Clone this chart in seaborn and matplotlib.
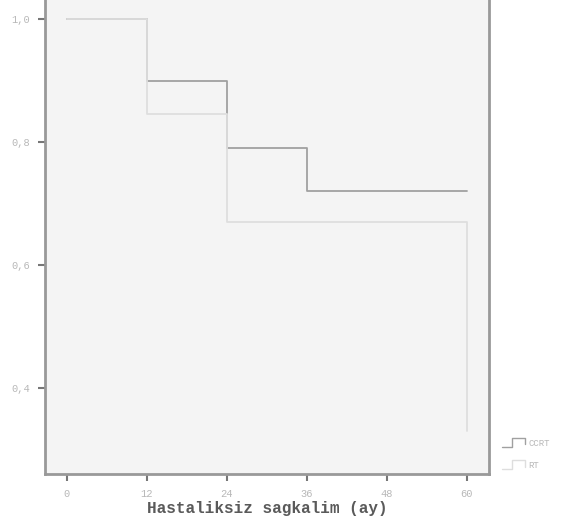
import matplotlib
matplotlib.use("Agg")
import matplotlib.pyplot as plt
import seaborn as sns
import pandas as pd
from matplotlib.lines import Line2D
from matplotlib.legend_handler import HandlerBase

# Data (Kaplan-Meier step curves)
ccrt_time = [0, 12, 24, 36, 60]
ccrt_surv = [1.0, 0.90, 0.79, 0.72, 0.72]
rt_time = [0, 12, 24, 60, 60]
rt_surv = [1.0, 0.845, 0.67, 0.67, 0.33]
groups = ["CCRT", "RT"]
x_ticks = [0, 12, 24, 36, 48, 60]
y_ticks = [0.4, 0.6, 0.8, 1.0]
y_tick_labels = ["0,4", "0,6", "0,8", "1,0"]
x_label = "Hastaliksiz sagkalim (ay)"

df = pd.concat([
    pd.DataFrame({"t": ccrt_time, "s": ccrt_surv, "g": groups[0]}),
    pd.DataFrame({"t": rt_time, "s": rt_surv, "g": groups[1]}),
], ignore_index=True)

sns.set_style("white")
plt.rcParams["font.family"] = ["Liberation Mono", "DejaVu Sans Mono"]

fig = plt.figure(figsize=(5.62, 5.22), dpi=100)
ax = fig.add_axes([0.080, 0.092, 0.790, 0.908])
ax.set_facecolor("#f4f4f4")

colors = {"CCRT": "#a0a0a0", "RT": "#dedede"}
for g in ["CCRT", "RT"]:
    sub = df[df["g"] == g]
    sns.lineplot(data=sub, x="t", y="s", ax=ax, estimator=None, sort=False,
                 drawstyle="steps-post", color=colors[g], linewidth=1.3, legend=False)

ax.set_xlim(-3.3, 63.3)
ax.set_ylim(0.26, 1.031)
ax.set_xticks(x_ticks)
ax.set_xticklabels([str(v) for v in x_ticks])
ax.set_yticks(y_ticks)
ax.set_yticklabels(y_tick_labels)
ax.tick_params(axis="both", bottom=True, left=True, direction="out", length=5,
               width=1.5, color="#777777", labelsize=7.5, labelcolor="#b8b8b8", pad=6)
ax.set_xlabel(x_label, fontsize=11.5, fontweight="bold", color="#5a5a5a", labelpad=1)
ax.set_ylabel("")

for side in ["left", "bottom", "right"]:
    ax.spines[side].set_visible(True)
    ax.spines[side].set_color("#999999")
    ax.spines[side].set_linewidth(2)
ax.spines["top"].set_visible(False)


class StepHandler(HandlerBase):
    def create_artists(self, legend, orig_handle, xdescent, ydescent, width,
                       height, fontsize, trans):
        x0, x1 = -xdescent, -xdescent + width
        y0, y1 = -ydescent, -ydescent + height
        xs = [x0, x0 + 0.45 * width, x0 + 0.45 * width, x1, x1]
        ys = [y0, y0, y1, y1, y0 + 0.3 * height]
        ln = Line2D(xs, ys, color=orig_handle.get_color(), lw=1.0, transform=trans)
        return [ln]


handles = [Line2D([0], [0], color=colors[g], lw=1.0) for g in groups]
fig.legend(handles, groups, loc="center left", bbox_to_anchor=(0.878, 0.13),
           frameon=False, fontsize=6.5, labelcolor="#b8b8b8", handlelength=2.6,
           handleheight=1.1, handletextpad=0.4, labelspacing=1.4,
           handler_map={Line2D: StepHandler()})

fig.savefig("out.png", dpi=100)
